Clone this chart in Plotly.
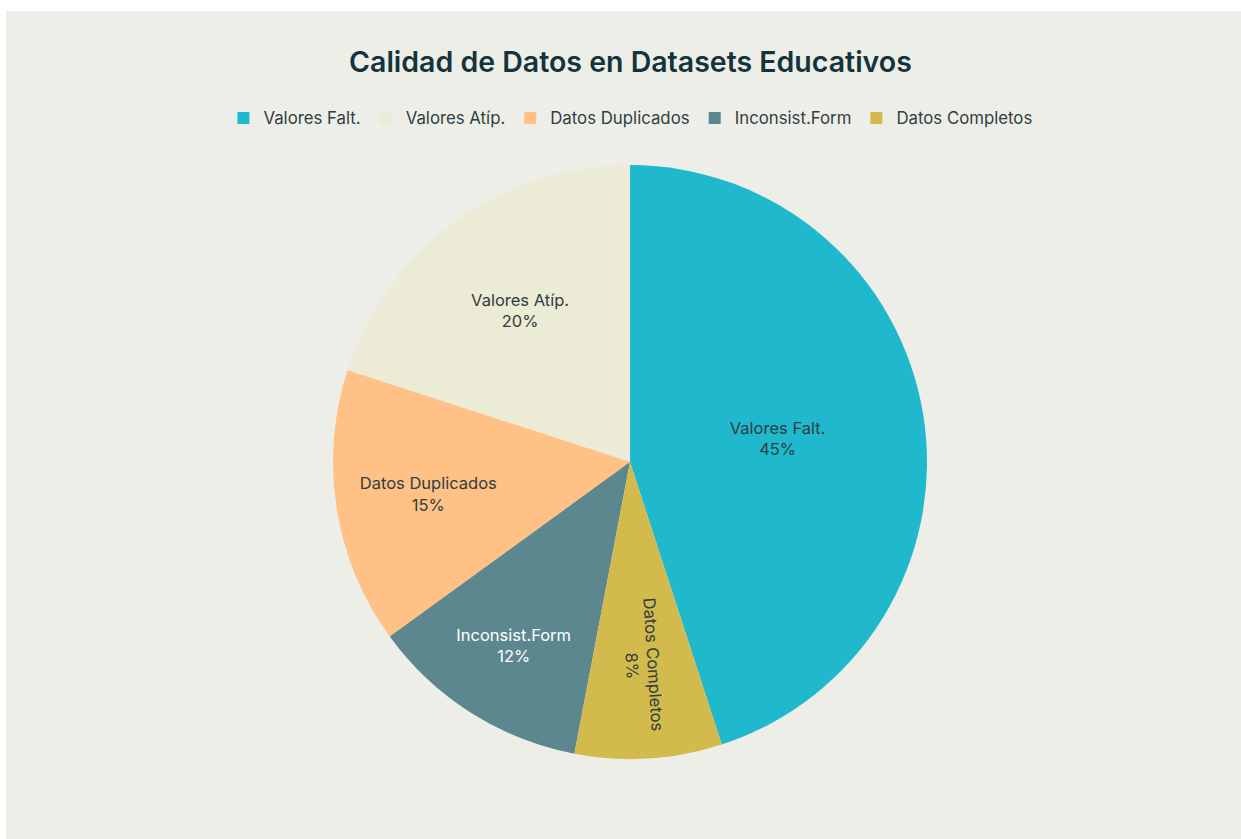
import plotly.graph_objects as go

# Data quality issues in educational datasets (share of records, %)
categories = ["Valores Falt.", "Valores Atíp.", "Datos Duplicados", "Inconsist.Form", "Datos Completos"]
values = [45, 20, 15, 12, 8]
colors = ["#1FB8CD", "#ECEBD5", "#FFC185", "#5D878F", "#D2BA4C"]
text_colors = ["#2F3E42", "#2F3E42", "#2F3E42", "#FFFFFF", "#2F3E42"]

W, H = 1241, 839
BG = "#EEEEE8"
FONT = "Inter"

# pie geometry in pixels
cx, cy, r = 630, 462, 297

fig = go.Figure(
    go.Pie(
        labels=categories,
        values=values,
        marker=dict(colors=colors, line=dict(width=0)),
        textinfo="label+percent",
        textposition="inside",
        insidetextfont=dict(family=FONT, size=16.5, color=text_colors),
        sort=False,
        domain=dict(
            x=[(cx - r) / W, (cx + r) / W],
            y=[1 - (cy + r) / H, 1 - (cy - r) / H],
        ),
        hoverinfo="label+percent",
    )
)

fig.update_layout(
    width=W,
    height=H,
    margin=dict(l=0, r=0, t=0, b=0),
    paper_bgcolor="white",
    font=dict(family=FONT, color="#13343B"),
    title=dict(
        text="Calidad de Datos en Datasets Educativos",
        font=dict(family=FONT, size=28.5, color="#13343B", weight=600),
        x=0.508,
        xanchor="center",
        y=1 - 62 / H,
        yanchor="middle",
        yref="container",
    ),
    legend=dict(
        orientation="h",
        x=0.508,
        xanchor="center",
        y=1 - 118 / H,
        yanchor="middle",
        font=dict(family=FONT, size=16.8, color="#2F3E42"),
        bgcolor="rgba(0,0,0,0)",
    ),
    shapes=[
        dict(
            type="rect",
            xref="paper",
            yref="paper",
            x0=6 / W,
            x1=1,
            y0=0,
            y1=1 - 11 / H,
            fillcolor=BG,
            line=dict(width=0),
            layer="below",
        )
    ],
)

fig.write_html("out.html")
